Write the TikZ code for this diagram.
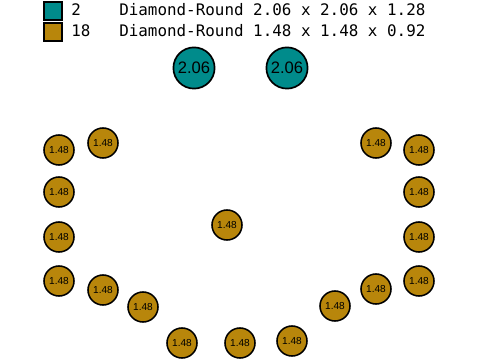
\documentclass[tikz,border=0pt]{standalone}
\usepackage{fontspec}
\setmainfont{Liberation Sans}
\newfontfamily\legendfont{DejaVu Sans Mono}
\definecolor{tealstone}{HTML}{008B8B}
\definecolor{goldstone}{HTML}{B8860B}
\begin{document}
\begin{tikzpicture}[x=0.025cm,y=-0.025cm]

    \tikzset{
      bigstone/.style={
        circle,
        draw=black,
        line width=1.2pt,
        fill=tealstone,
        inner sep=0pt,
        minimum size=1.03cm,
        font=\fontsize{11.8}{12}\selectfont,
      },
      smallstone/.style={
        circle,
        draw=black,
        line width=1.1pt,
        fill=goldstone,
        inner sep=0pt,
        minimum size=0.75cm,
        font=\fontsize{7.2}{8}\selectfont,
      },
      swatch/.style={
        draw=black,
        line width=1.1pt,
        inner sep=0pt,
        minimum size=0.45cm,
      },
      legend/.style={
        anchor=base west,
        inner sep=0pt,
        font=\legendfont\fontsize{11.3}{12}\selectfont,
      },
    }
    \useasboundingbox (0,0) rectangle (480,360);
	\node[swatch, fill=tealstone] (key1) at (53,11) {};
	\node[swatch, fill=goldstone] (key2) at (53,32) {};
	\node[legend] (count1) at (71,15.5) {2};
	\node[legend] (count2) at (71,36.5) {18};
	\node[legend] (desc1) at (119,15.5) {Diamond-Round 2.06 x 2.06 x 1.28};
	\node[legend] (desc2) at (119,36.5) {Diamond-Round 1.48 x 1.48 x 0.92};
	\node[bigstone] (big1) at (194,68) {2.06};
	\node[bigstone] (big2) at (287,68) {2.06};
	\node[smallstone] (left1) at (59,150) {1.48};
	\node[smallstone] (left2) at (59,192) {1.48};
	\node[smallstone] (left3) at (59,237) {1.48};
	\node[smallstone] (left4) at (59,281) {1.48};
	\node[smallstone] (leftup) at (103,143) {1.48};
	\node[smallstone] (leftdown) at (103,290) {1.48};
	\node[smallstone] (right1) at (419,150) {1.48};
	\node[smallstone] (right2) at (419,192) {1.48};
	\node[smallstone] (right3) at (419,237) {1.48};
	\node[smallstone] (right4) at (419,281) {1.48};
	\node[smallstone] (rightup) at (376,143) {1.48};
	\node[smallstone] (rightdown) at (376,289) {1.48};
	\node[smallstone] (middle) at (227,225) {1.48};
	\node[smallstone] (bottom1) at (143,307) {1.48};
	\node[smallstone] (bottom2) at (182,343) {1.48};
	\node[smallstone] (bottom3) at (240,343) {1.48};
	\node[smallstone] (bottom4) at (292,341) {1.48};
	\node[smallstone] (bottom5) at (335,306) {1.48};

\end{tikzpicture}
\end{document}
